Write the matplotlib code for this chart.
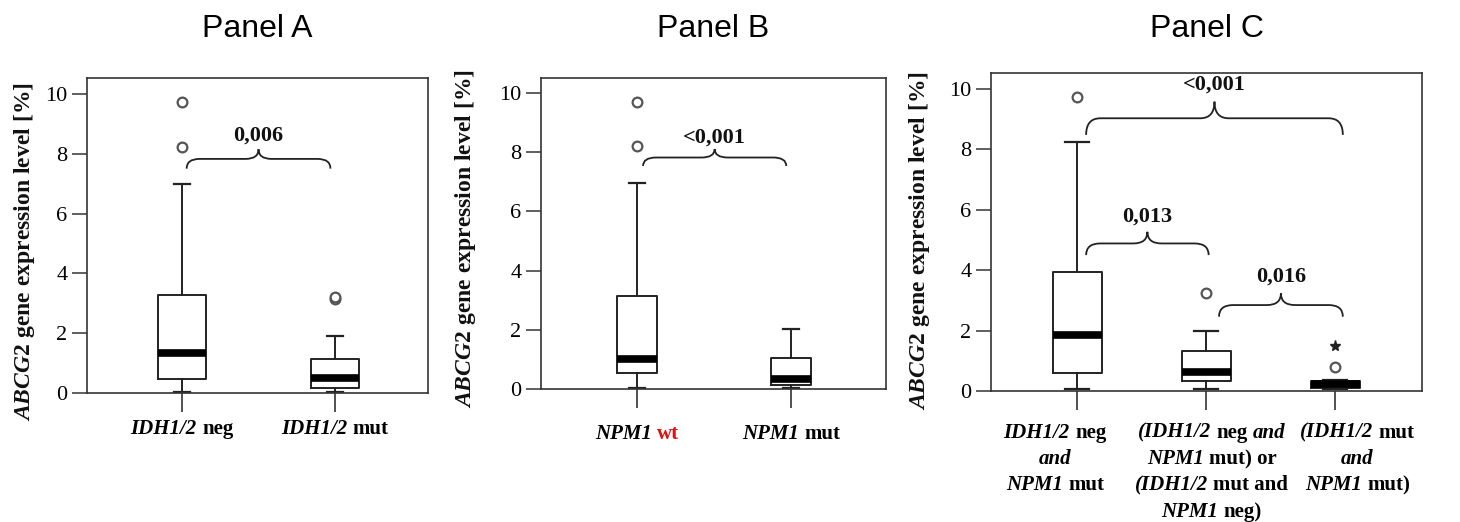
#!/usr/bin/env python3
"""
ABCG2 expression box plots in three panels (IDH1/2 and NPM1 status),
redrawn with matplotlib and saved to out.png.
"""

import matplotlib
matplotlib.use('Agg')
import matplotlib.pyplot as plt
from matplotlib.path import Path
from matplotlib.patches import PathPatch
from matplotlib.offsetbox import TextArea, HPacker, VPacker, AnnotationBbox

SERIF = 'Liberation Serif'
SANS = 'Liberation Sans'
plt.rcParams['font.family'] = SERIF

# Panel A: IDH1/2 neg vs mut
A_WHISLO = [0.04, 0.05]
A_Q1 = [0.47, 0.18]
A_MED = [1.33, 0.51]
A_Q3 = [3.28, 1.13]
A_WHISHI = [6.98, 1.92]
A_FLIERS = [[9.72, 8.22], [3.15, 3.22]]
A_TICKS = [
    [[('IDH1/2', 'i'), ('neg', 'b')]],
    [[('IDH1/2', 'i'), ('mut', 'b')]],
]
A_BRACES = [(1.03, 1.97, 7.5, 8.15, 8.6, '0,006')]

# Panel B: NPM1 wt vs mut
B_WHISLO = [0.05, 0.05]
B_Q1 = [0.53, 0.14]
B_MED = [1.0, 0.33]
B_Q3 = [3.14, 1.06]
B_WHISHI = [6.97, 2.02]
B_FLIERS = [[9.7, 8.2], []]
B_TICKS = [
    [[('NPM1', 'i'), ('wt', 'r')]],
    [[('NPM1', 'i'), ('mut', 'b')]],
]
B_BRACES = [(1.04, 1.97, 7.53, 8.1, 8.5, '<0,001')]

# Panel C: combined groups
C_WHISLO = [0.05, 0.07, 0.05]
C_Q1 = [0.61, 0.33, 0.11]
C_MED = [1.85, 0.64, 0.22]
C_Q3 = [3.94, 1.32, 0.33]
C_WHISHI = [8.26, 1.99, 0.36]
C_FLIERS = [[9.75], [3.23], [0.78]]
C_EXTREMES = [[], [], [1.5]]
C_TICKS = [
    [[('IDH1/2', 'i'), ('neg', 'b')], [('and', 'i')], [('NPM1', 'i'), ('mut', 'b')]],
    [[('(IDH1/2', 'i'), ('neg', 'b'), ('and', 'i')],
     [('NPM1', 'i'), ('mut) or', 'b')],
     [('(IDH1/2', 'i'), ('mut and', 'b')],
     [('NPM1', 'i'), ('neg)', 'b')]],
    [[('(IDH1/2', 'i'), ('mut', 'b')], [('and', 'i')], [('NPM1', 'i'), ('mut)', 'b')]],
]
C_BRACES = [
    (1.07, 3.06, 8.48, 9.58, 10.13, '<0,001'),
    (1.07, 2.02, 4.5, 5.27, 5.77, '0,013'),
    (2.10, 3.06, 2.46, 3.23, 3.78, '0,016'),
]

LINE = '#222222'
TICK_FS = 15
NUM_FS = 16
# horizontal nudge (points) of the long labels in panel C
C_LABEL_NUDGE = [-16, 4, 16]


def make_stats(lo, q1, med, q3, hi, fliers):
    return [dict(whislo=a, q1=b, med=c, q3=d, whishi=e, fliers=f)
            for a, b, c, d, e, f in zip(lo, q1, med, q3, hi, fliers)]


def draw_brace(ax, brace, r):
    """Curly brace between two groups with the p value on top."""
    x1, x2, y_end, y_tip, y_text, label = brace
    y_bar = (y_end + y_tip) / 2
    xm = (x1 + x2) / 2
    verts = [(x1, y_end), (x1, y_bar), (x1 + r, y_bar),
             (xm - r, y_bar), (xm, y_bar), (xm, y_tip),
             (xm, y_bar), (xm + r, y_bar),
             (x2 - r, y_bar), (x2, y_bar), (x2, y_end)]
    codes = [Path.MOVETO, Path.CURVE3, Path.CURVE3,
             Path.LINETO, Path.CURVE3, Path.CURVE3,
             Path.CURVE3, Path.CURVE3,
             Path.LINETO, Path.CURVE3, Path.CURVE3]
    ax.add_patch(PathPatch(Path(verts, codes), fill=False, lw=1.3,
                           edgecolor=LINE, clip_on=False))
    ax.text(xm, y_text, label, ha='center', va='center', fontsize=NUM_FS,
            fontweight='bold', color='#111111')


def rich_label(ax, x, lines, offset, nudge=0):
    """Tick label made of italic / bold / red pieces, one packer per line."""
    styles = {
        'i': dict(fontstyle='italic', color='black'),
        'b': dict(fontstyle='normal', color='black'),
        'r': dict(fontstyle='normal', color='#e01010'),
    }
    rows = []
    for line in lines:
        parts = [TextArea(txt, textprops=dict(fontfamily=SERIF, fontweight='bold',
                                             fontsize=TICK_FS, **styles[st]))
                 for txt, st in line]
        rows.append(HPacker(children=parts, align='baseline', pad=0, sep=3.8))
    box = VPacker(children=rows, align='center', pad=0, sep=4.5)
    ab = AnnotationBbox(box, (x, 0), xycoords=ax.get_xaxis_transform(),
                        xybox=(nudge, -offset), boxcoords='offset points',
                        box_alignment=(0.5, 1), frameon=False, pad=0,
                        annotation_clip=False)
    ax.add_artist(ab)


def style_axes(ax, ymax, xlim):
    ax.set_ylim(0, ymax)
    ax.set_xlim(*xlim)
    ax.set_yticks([0, 2, 4, 6, 8, 10])
    ax.tick_params(axis='y', direction='out', length=11, width=1.2,
                   color='#444444', labelsize=NUM_FS, pad=3)
    ax.tick_params(axis='x', direction='out', length=14, width=1.2,
                   color='#333333', labelbottom=False)
    for sp in ax.spines.values():
        sp.set_linewidth(1.2)
        sp.set_color('#333333')


def draw_panel(ax, stats, width, capw, ticks, offset, nudges=None):
    positions = list(range(1, len(stats) + 1))
    if nudges is None:
        nudges = [0] * len(positions)
    ax.bxp(stats, positions=positions, widths=width, capwidths=capw,
           showfliers=True, manage_ticks=False,
           boxprops=dict(color=LINE, lw=1.4),
           whiskerprops=dict(color=LINE, lw=1.4),
           capprops=dict(color=LINE, lw=1.6),
           medianprops=dict(color='black', lw=5.5, solid_capstyle='butt'),
           flierprops=dict(marker='o', markersize=7, markerfacecolor='white',
                           markeredgecolor='#555555', markeredgewidth=1.6))
    ax.set_xticks(positions)
    for pos, lines, nd in zip(positions, ticks, nudges):
        rich_label(ax, pos, lines, offset, nd)


def main():
    fig = plt.figure(figsize=(14.6, 5.22), dpi=100)

    ax_a = fig.add_axes([0.0596, 0.2471, 0.2336, 0.6035])
    ax_b = fig.add_axes([0.3705, 0.2548, 0.2363, 0.5958])
    ax_c = fig.add_axes([0.6788, 0.2510, 0.2952, 0.6092])

    style_axes(ax_a, 10.53, (0.379, 2.608))
    style_axes(ax_b, 10.5, (0.377, 2.617))
    style_axes(ax_c, 10.53, (0.333, 3.674))

    draw_panel(ax_a, make_stats(A_WHISLO, A_Q1, A_MED, A_Q3, A_WHISHI, A_FLIERS),
               0.31, 0.1, A_TICKS, 19)
    draw_panel(ax_b, make_stats(B_WHISLO, B_Q1, B_MED, B_Q3, B_WHISHI, B_FLIERS),
               0.26, 0.1, B_TICKS, 25)
    draw_panel(ax_c, make_stats(C_WHISLO, C_Q1, C_MED, C_Q3, C_WHISHI, C_FLIERS),
               0.38, 0.18, C_TICKS, 23, C_LABEL_NUDGE)

    # extreme value (star) in the last group of panel C
    for pos, vals in enumerate(C_EXTREMES, start=1):
        if vals:
            ax_c.plot([pos] * len(vals), vals, linestyle='none', marker='*',
                      markersize=8, color='#222222')

    for brace in A_BRACES:
        draw_brace(ax_a, brace, 0.085)
    for brace in B_BRACES:
        draw_brace(ax_b, brace, 0.085)
    for brace in C_BRACES:
        draw_brace(ax_c, brace, 0.11)

    # titles and y labels
    ylabel = r'$\it{ABCG2}$ gene expression level [%]'
    plt.rcParams['mathtext.fontset'] = 'custom'
    plt.rcParams['mathtext.it'] = SERIF + ':italic:bold'
    plt.rcParams['mathtext.rm'] = SERIF + ':bold'
    panels = [('A', ax_a, (25, 252)), ('B', ax_b, (465, 239)), ('C', ax_c, (920, 241))]
    for name, ax, (lx, ly) in panels:
        box = ax.get_position()
        fig.text((box.x0 + box.x1) / 2, 0.944, 'Panel ' + name,
                 ha='center', va='center', fontsize=23, family=SANS)
        fig.text(lx / 1460, 1 - ly / 522, ylabel, rotation=90, ha='center',
                 va='center', fontsize=17, fontweight='bold', color='#111111')

    fig.savefig('out.png', dpi=100)


if __name__ == '__main__':
    main()
